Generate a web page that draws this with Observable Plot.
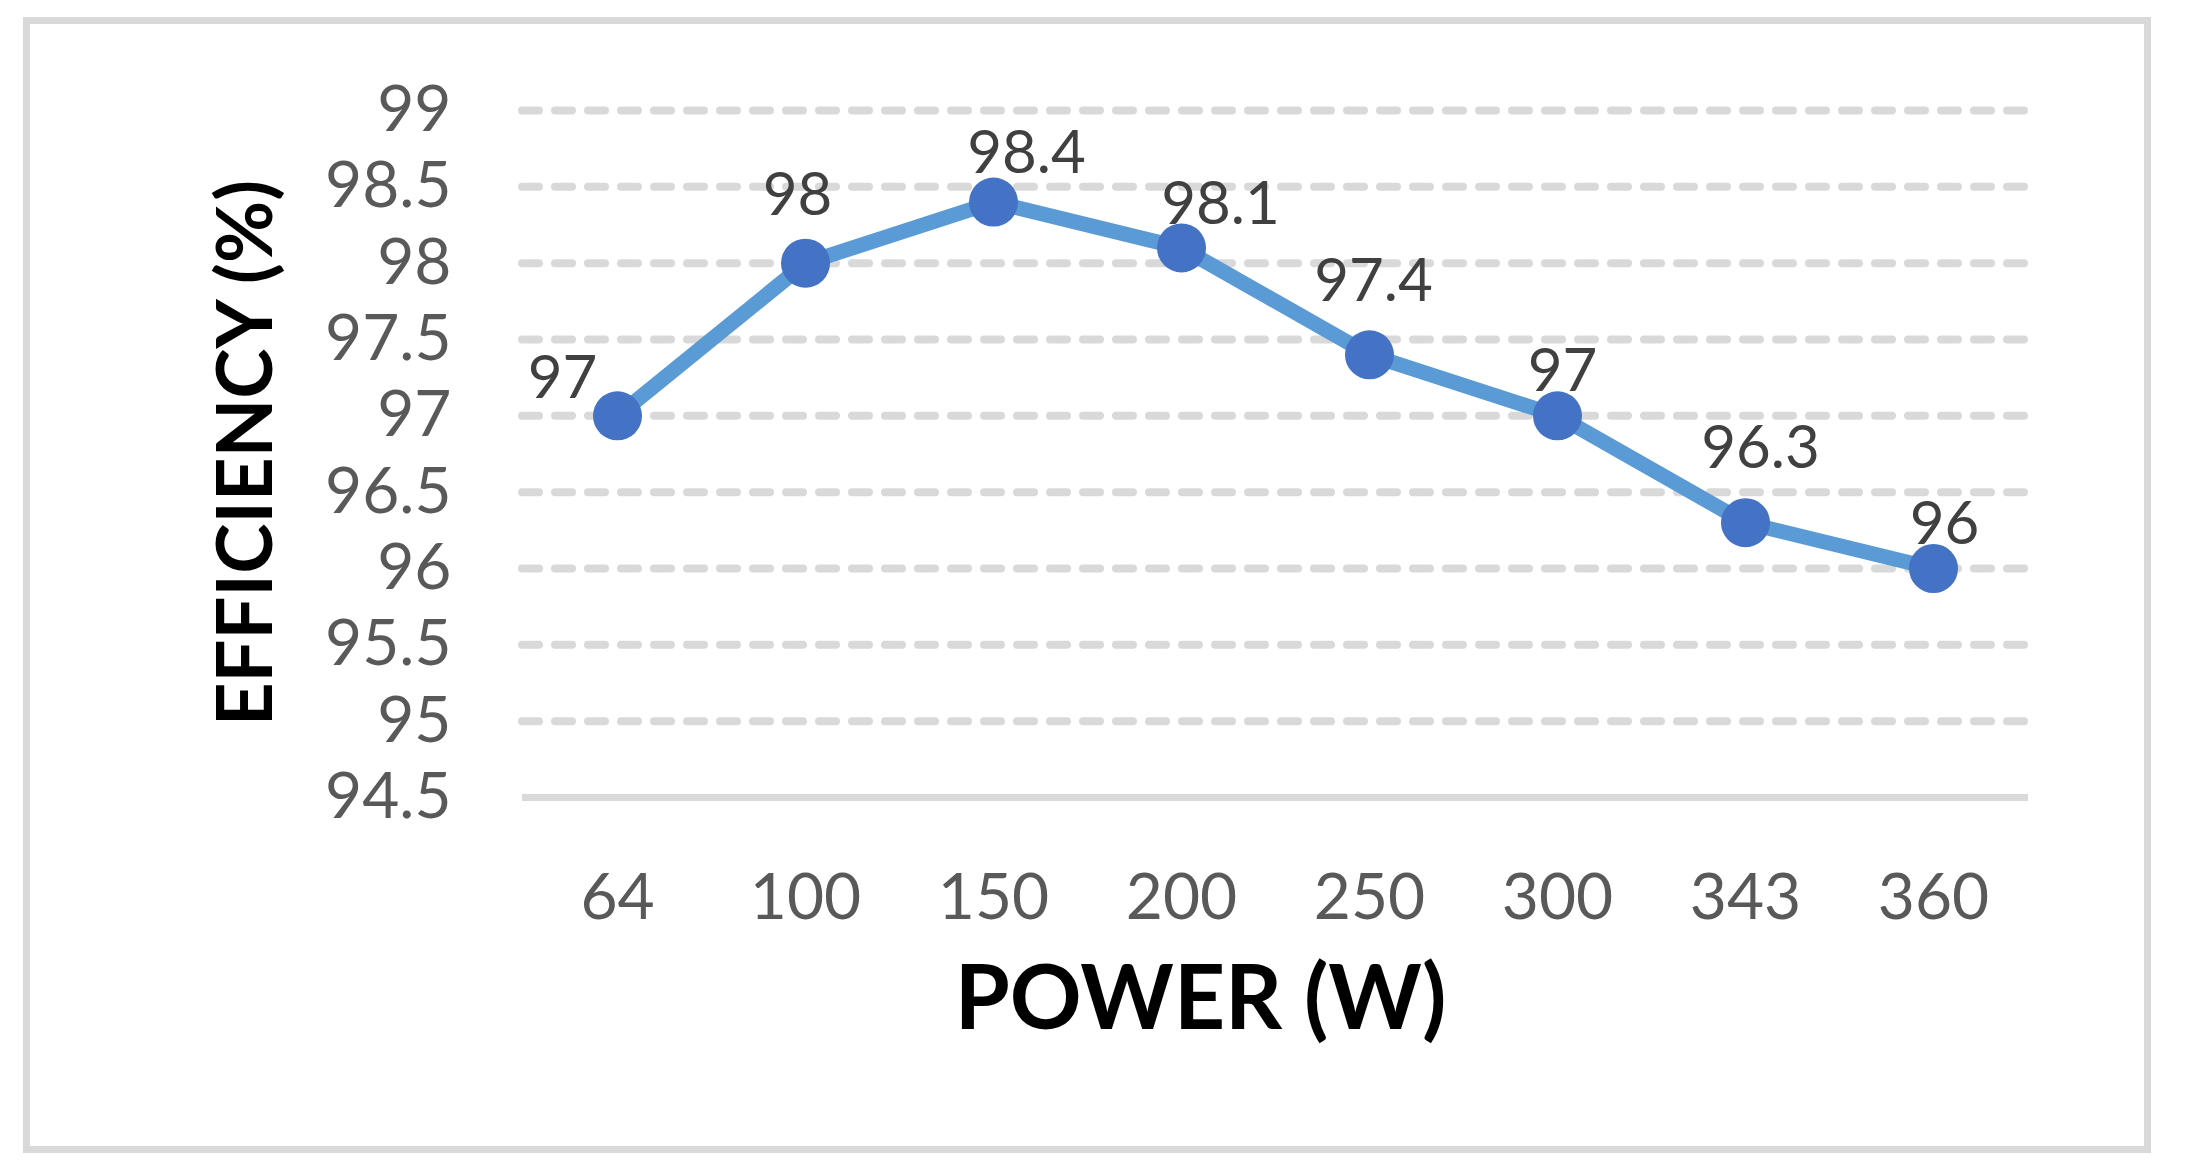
<!DOCTYPE html>
<html><head><meta charset="utf-8">
<script src="https://cdn.jsdelivr.net/npm/d3@7"></script>
<script src="https://cdn.jsdelivr.net/npm/@observablehq/plot@0.6"></script>
<style>
html,body{margin:0;padding:0;background:#fff;}
#wrap{position:relative;width:2191px;height:1174px;overflow:hidden;}
#wrap svg{position:absolute;left:0;top:0;}
#border{position:absolute;left:23px;top:17px;width:2128px;height:1136px;box-sizing:border-box;border:7px solid #d9d9d9;pointer-events:none;z-index:2;}
</style></head><body>
<div id="wrap"><div id="border"></div></div>
<script>
// ---- data ----
const powers = [64, 100, 150, 200, 250, 300, 343, 360];
const efficiency = [97, 98, 98.4, 98.1, 97.4, 97, 96.3, 96];
const yTicks = [94.5, 95, 95.5, 96, 96.5, 97, 97.5, 98, 98.5, 99];
const xTitle = "POWER (W)";
const yTitle = "EFFICIENCY (%)";

// ---- layout (label offsets in px, relative to each point) ----
const labelDx = [-55, -8, 33, 39, 4, 5, 15, 11];
const labelDy = [-18, -48, -29, -24, -54, -25, -55, -25];

const rows = powers.map((p, i) => ({power: p, eff: efficiency[i]}));

const FONT = "Lato, 'Open Sans', 'Noto Sans', sans-serif";

const labelMarks = rows.map((d, i) => Plot.text([d], {
  x: "power", y: "eff", text: r => String(r.eff),
  dx: labelDx[i], dy: labelDy[i],
  lineAnchor: "bottom", textAnchor: "middle",
  fontSize: 60, fill: "#404040"
}));

const chart = Plot.plot({
  width: 2191,
  height: 1174,
  marginLeft: 522,
  marginRight: 163,
  marginTop: 110,
  marginBottom: 377,
  style: {fontFamily: FONT, color: "#595959", background: "transparent"},
  x: {type: "point", domain: powers, padding: 0.5, label: null},
  y: {domain: [94.5, 99], label: null},
  marks: [
    Plot.ruleY(yTicks.filter(t => t > yTicks[0]), {
      stroke: "#d9d9d9", strokeWidth: 8, strokeDasharray: "17,16", strokeLinecap: "round"
    }),
    Plot.ruleY([yTicks[0]], {stroke: "#d9d9d9", strokeWidth: 7}),
    Plot.axisY({ticks: yTicks, tickSize: 0, tickPadding: 71, fontSize: 64, label: null, tickFormat: d => String(d)}),
    Plot.axisX({tickSize: 0, tickPadding: 76, fontSize: 64, label: null, tickFormat: d => String(d)}),
    Plot.line(rows, {x: "power", y: "eff", stroke: "#5b9bd5", strokeWidth: 15, strokeLinejoin: "round"}),
    Plot.dot(rows, {x: "power", y: "eff", r: 24.5, fill: "#4472c4", stroke: "none"}),
    ...labelMarks,
    Plot.text([xTitle], {
      frameAnchor: "bottom", dx: -75, dy: 231, lineAnchor: "bottom", textAnchor: "middle",
      fontSize: 89, fontWeight: "bold", fill: "#000"
    }),
    Plot.text([yTitle], {
      frameAnchor: "left", rotate: -90, dx: -251, dy: -1, lineAnchor: "bottom", textAnchor: "middle",
      fontSize: 76, fontWeight: "bold", fill: "#000"
    })
  ]
});
document.getElementById("wrap").appendChild(chart);
</script>
</body></html>
